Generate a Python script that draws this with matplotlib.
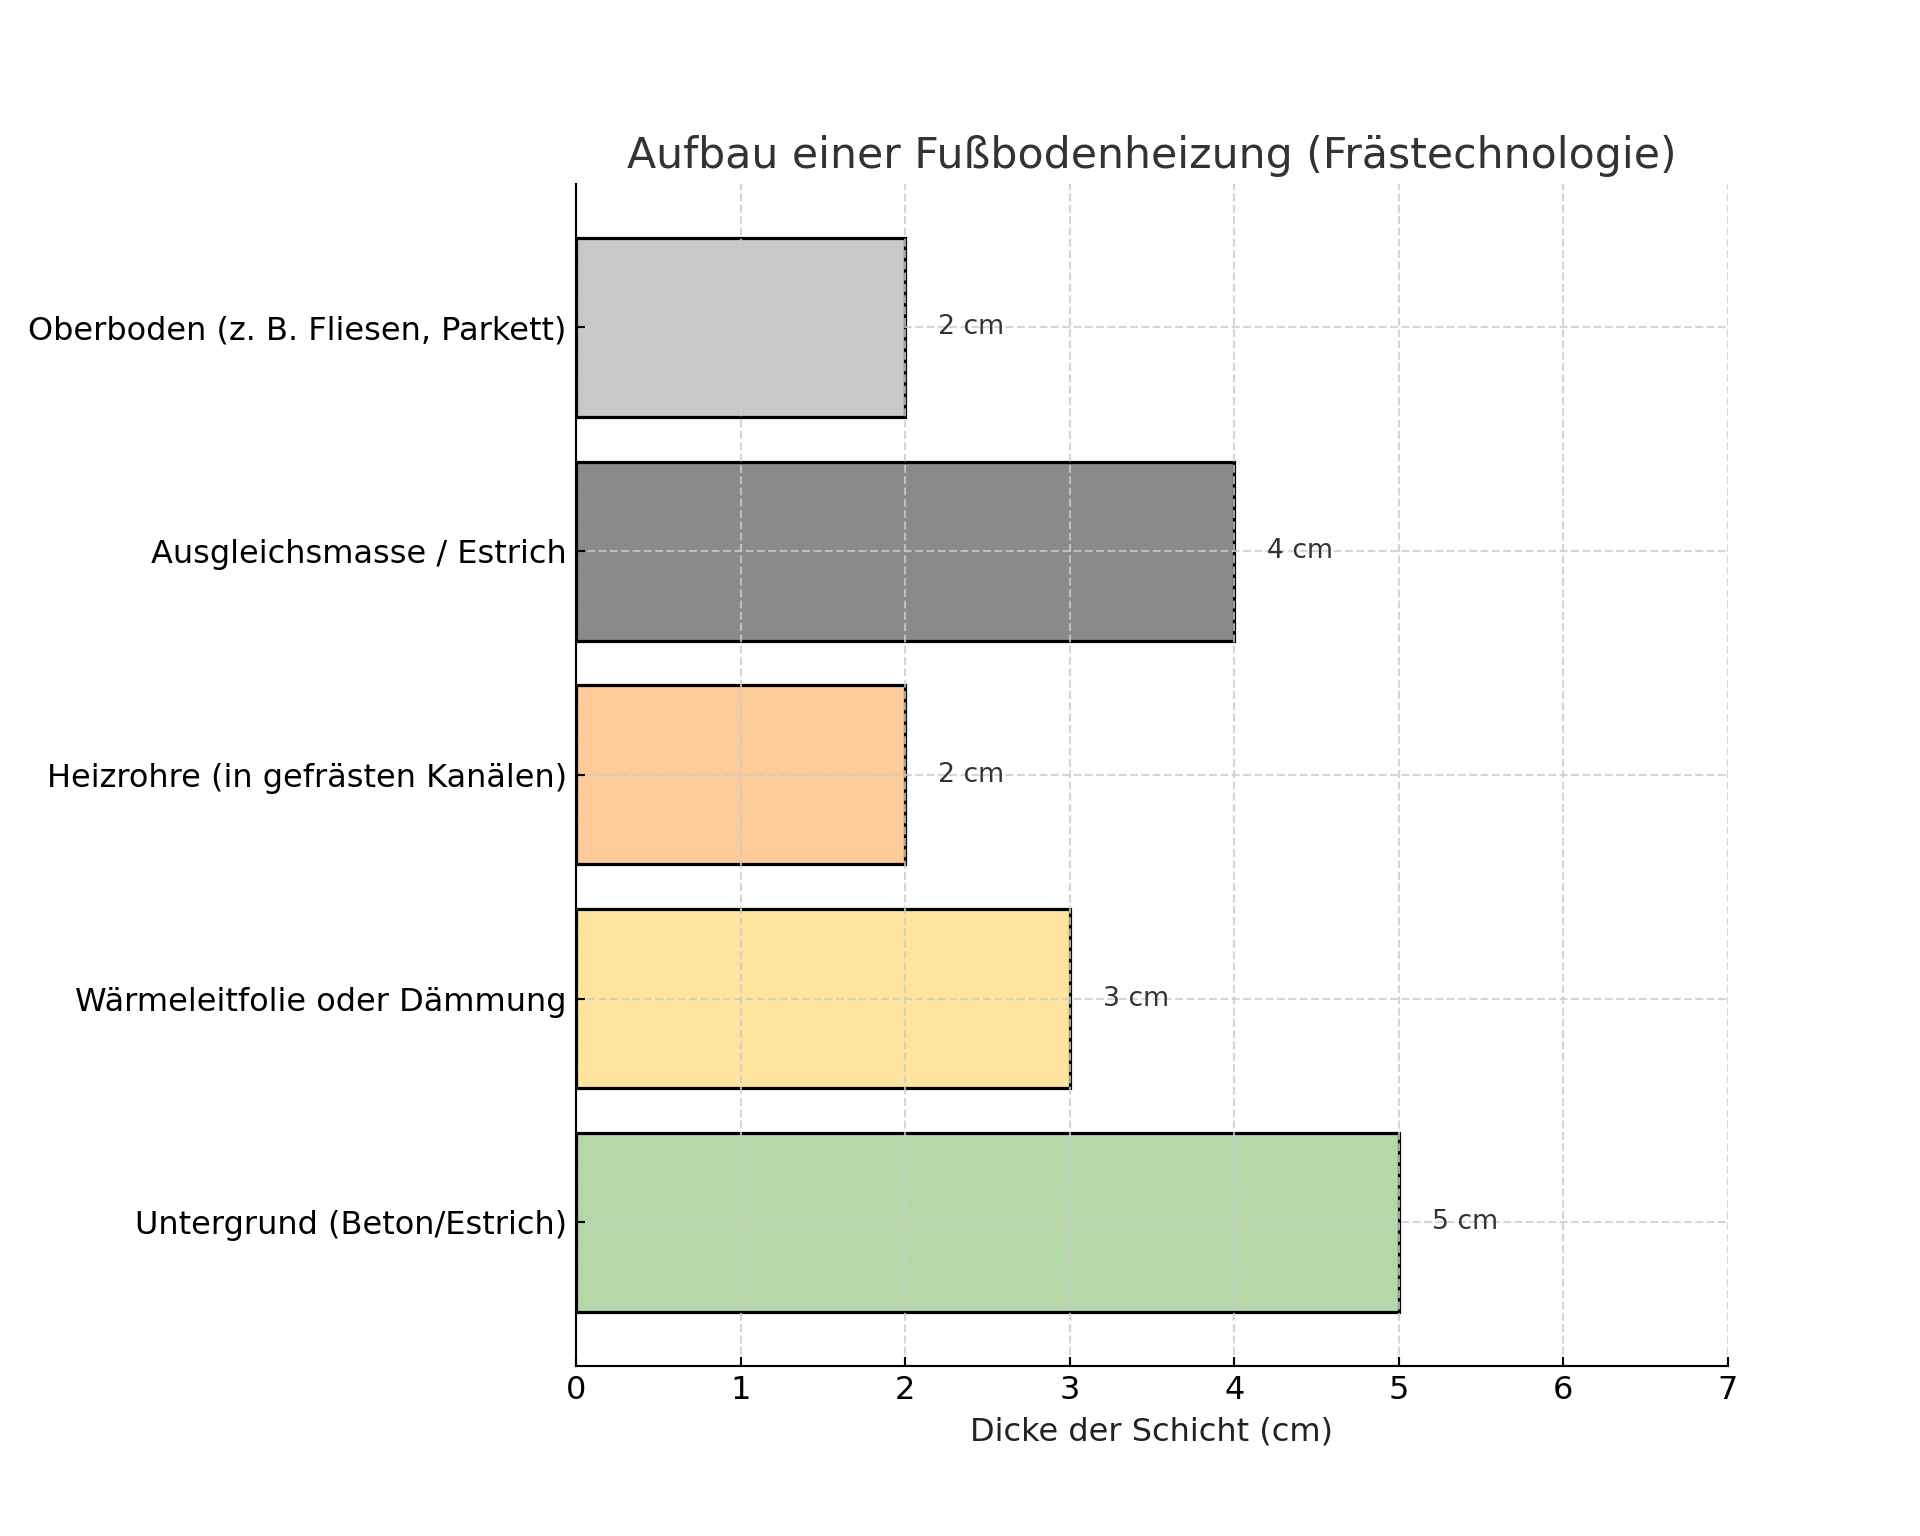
import matplotlib
matplotlib.use("Agg")
import matplotlib.pyplot as plt

# layers, bottom to top
layers = [
    "Untergrund (Beton/Estrich)",
    "Wärmeleitfolie oder Dämmung",
    "Heizrohre (in gefrästen Kanälen)",
    "Ausgleichsmasse / Estrich",
    "Oberboden (z. B. Fliesen, Parkett)",
]
thickness = [5, 3, 2, 4, 2]
colors = ["#b6d7a8", "#fee49e", "#fdca9a", "#8a8a8a", "#c8c8c8"]

fig, ax = plt.subplots(figsize=(10, 8), dpi=192)
fig.subplots_adjust(left=0.3, right=0.9, top=0.88, bottom=0.111)

bars = ax.barh(layers, thickness, color=colors, edgecolor="black", linewidth=1.2)
for y, v in enumerate(thickness):
    ax.text(v + 0.2, y, f"{v} cm", va="center", fontsize=10, color="#333333")

ax.set_xlim(0, 7)
ax.set_xlabel("Dicke der Schicht (cm)", fontsize=12, color="#222222")
ax.set_title("Aufbau einer Fußbodenheizung (Frästechnologie)", fontsize=16, color="#333333")
ax.tick_params(labelsize=12, direction="in")
ax.grid(True, linestyle="--", color="#cccccc", linewidth=0.8, alpha=0.8)
ax.spines["top"].set_visible(False)
ax.spines["right"].set_visible(False)

plt.savefig("out.png", dpi=192)
